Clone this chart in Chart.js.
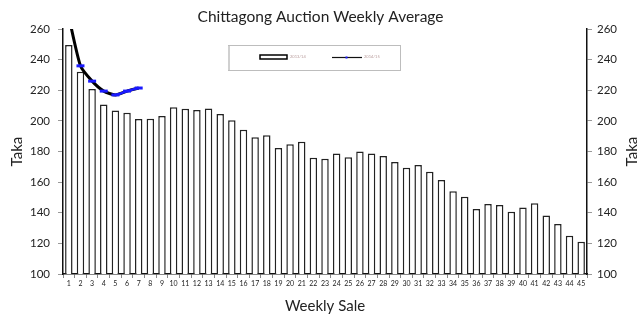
<!DOCTYPE html>
<html>
<head>
<meta charset="utf-8">
<script src="https://cdn.jsdelivr.net/npm/chart.js@4"></script>
<style>
  html, body { margin: 0; padding: 0; background: #fff; }
  #wrap { width: 641px; height: 322px; }
</style>
</head>
<body>
<div id="wrap"><canvas id="c" width="641" height="322"></canvas></div>
<script>
// Weekly sale numbers
const weeks = ['1','2','3','4','5','6','7','8','9','10','11','12','13','14','15','16','17','18','19','20','21','22','23','24','25','26','27','28','29','30','31','32','33','34','35','36','37','38','39','40','41','42','43','44','45'];

// Average price per sale (Taka/kg)
const weeklyAverage = [249.6, 232.1, 220.8, 210.7, 206.9, 205.3, 201.2, 201.5, 203.2, 209.0,
  208.0, 207.1, 208.2, 204.5, 200.4, 194.3, 189.3, 190.6, 182.3, 184.7,
  186.4, 176.0, 175.3, 178.8, 176.2, 180.1, 178.8, 177.1, 173.2, 169.4,
  171.2, 166.8, 161.4, 154.0, 150.5, 142.5, 145.7, 145.1, 140.7, 143.5,
  146.2, 138.3, 132.7, 125.0, 121.1];

// Current season so far
const seasonLine = [268, 236, 226, 219.5, 217, 219.5, 221.5];
const seasonMarkers = [null, 236, 226, 219.5, 217, 219.5, 221.5];

const legendNames = ['2013/14', '2014/15'];

const yTicks = { min: 100, max: 260, step: 10 };

const FONT = 'Lato, "Open Sans", sans-serif';

const overlay = {
  id: 'overlay',
  afterDraw(chart) {
    const ctx = chart.ctx;
    const area = chart.chartArea;
    ctx.save();
    // legend box
    ctx.strokeStyle = '#bdbdbd';
    ctx.lineWidth = 1;
    ctx.strokeRect(228.5, 45.5, 172, 25);
    ctx.strokeStyle = '#d0d0d0';
    ctx.lineWidth = 2;
    ctx.beginPath(); ctx.moveTo(229, 46); ctx.lineTo(229, 70); ctx.stroke();
    // entry 1: weekly average (outlined bar swatch)
    ctx.fillStyle = '#fff';
    ctx.strokeStyle = '#000';
    ctx.lineWidth = 1.5;
    ctx.fillRect(260, 55, 27, 4);
    ctx.strokeRect(260, 55, 27, 4);
    ctx.fillStyle = '#b79a9a';
    ctx.font = '4px ' + FONT;
    ctx.textBaseline = 'middle';
    ctx.fillText(legendNames[0], 290, 57);
    // entry 2: season line
    ctx.strokeStyle = '#111';
    ctx.lineWidth = 1.2;
    ctx.beginPath(); ctx.moveTo(332, 57.5); ctx.lineTo(362, 57.5); ctx.stroke();
    ctx.fillStyle = '#1a1aff';
    ctx.fillRect(345.5, 56.5, 2, 2);
    ctx.fillStyle = '#b79a9a';
    ctx.fillText(legendNames[1], 364, 57);
    // right axis title
    ctx.fillStyle = '#222';
    ctx.font = '15px ' + FONT;
    ctx.textAlign = 'center';
    ctx.textBaseline = 'middle';
    ctx.translate(632, (area.top + area.bottom) / 2);
    ctx.rotate(-Math.PI / 2);
    ctx.fillText('Taka', 0, 0);
    ctx.restore();
  }
};

new Chart(document.getElementById('c'), {
  data: {
    labels: weeks,
    datasets: [
      {
        type: 'line',
        data: seasonMarkers,
        yAxisID: 'y',
        borderColor: '#1a1aff',
        borderWidth: 2.5,
        pointStyle: 'line',
        pointRadius: 4,
        pointBorderWidth: 3,
        pointBorderColor: '#1a1aff',
        pointBackgroundColor: '#1a1aff',
        tension: 0.2,
        segment: {
          borderColor: c => c.p0DataIndex >= 4 ? '#1a1aff' : 'rgba(0,0,0,0)'
        },
        order: 0
      },
      {
        type: 'line',
        data: seasonLine,
        yAxisID: 'y',
        borderColor: '#000',
        borderWidth: 3,
        pointRadius: 0,
        tension: 0.2,
        order: 1
      },
      {
        type: 'bar',
        data: weeklyAverage,
        yAxisID: 'y',
        backgroundColor: '#fff',
        borderColor: '#222',
        borderWidth: 1.5,
        borderSkipped: 'bottom',
        barPercentage: 0.64,
        categoryPercentage: 1,
        order: 2
      }
    ]
  },
  options: {
    responsive: false,
    animation: false,
    layout: { padding: 0 },
    plugins: {
      legend: { display: false },
      tooltip: { enabled: false },
      title: {
        display: true,
        text: 'Chittagong Auction Weekly Average',
        color: '#222',
        font: { family: FONT, size: 15.5, weight: 'normal' },
        padding: { top: 8, bottom: 2.5 }
      }
    },
    scales: {
      x: {
        offset: true,
        grid: { display: true, drawOnChartArea: false, offset: true, tickLength: 4, color: '#888' },
        border: { display: true, color: '#111', width: 1.5 },
        ticks: { color: '#222', font: { family: FONT, size: 7 }, padding: 2, maxRotation: 0, autoSkip: false },
        title: { display: true, text: 'Weekly Sale', color: '#222', font: { family: FONT, size: 15 }, padding: { top: 4, bottom: 7 } },
        afterFit(s) { s.height = 48; }
      },
      y: {
        position: 'left',
        min: yTicks.min, max: yTicks.max,
        grid: { display: true, drawOnChartArea: false, tickLength: 5, color: '#999' },
        border: { display: true, color: '#111', width: 1.5 },
        ticks: { stepSize: yTicks.step, color: '#222', font: { family: FONT, size: 11.5 }, padding: 8 },
        title: { display: true, text: 'Taka', color: '#222', font: { family: FONT, size: 15 }, padding: { top: 8, bottom: 0 } },
        afterFit(s) { s.width = 63; }
      },
      y2: {
        position: 'right',
        min: yTicks.min, max: yTicks.max,
        grid: { display: true, drawOnChartArea: false, tickLength: 5, color: '#999' },
        border: { display: true, color: '#111', width: 1.5 },
        ticks: { stepSize: yTicks.step, color: '#222', font: { family: FONT, size: 11.5 }, padding: 5 },
        afterFit(s) { s.width = 54; }
      }
    }
  },
  plugins: [overlay]
});
</script>
</body>
</html>
